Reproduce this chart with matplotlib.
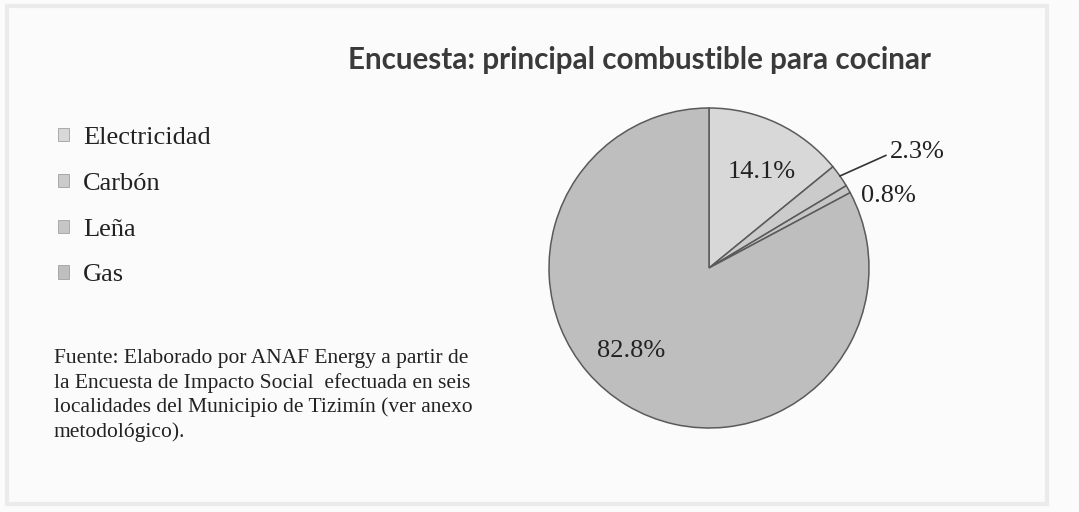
import numpy as np
import matplotlib
matplotlib.use('Agg')
import matplotlib.pyplot as plt
from matplotlib.patches import Rectangle

# Encuesta de impacto social - combustible para cocinar
categorias = ['Electricidad', 'Carbón', 'Leña', 'Gas']
porcentajes = [14.1, 2.3, 0.8, 82.8]
etiquetas = ['14.1%', '2.3%', '0.8%', '82.8%']
colores = ['#d8d8d8', '#cbcbcb', '#c6c6c6', '#bebebe']

titulo = 'Encuesta: principal combustible para cocinar'
fuente = ('Fuente: Elaborado por ANAF Energy a partir de\n'
          'la Encuesta de Impacto Social  efectuada en seis\n'
          'localidades del Municipio de Tizimín (ver anexo\n'
          'metodológico).')

serif = ['Liberation Serif', 'DejaVu Serif']

fig = plt.figure(figsize=(10.79, 5.12), dpi=100, facecolor='#fbfbfb')

# marco tenue alrededor del grafico
fig.patches.append(Rectangle((7 / 1079, 8 / 512), 1040 / 1079, 498 / 512,
                             transform=fig.transFigure, fill=False,
                             edgecolor='#ebebeb', linewidth=3))

ax = fig.add_axes([549 / 1079, (512 - 428) / 512, 320 / 1079, 320 / 512])
wedges, _ = ax.pie(porcentajes, colors=colores, startangle=90, counterclock=False,
                   radius=1.0, wedgeprops=dict(edgecolor='#5a5a5a', linewidth=1.1))
ax.set_xlim(-1, 1)
ax.set_ylim(-1, 1)
ax.set_aspect('equal')
ax.axis('off')

# posicion de las etiquetas (radio, angulo en grados)
pos_etiquetas = [(0.685, 61.1), (1.49, 29.0), (1.21, 21.8), (0.71, 227.0)]
for i, (w, txt) in enumerate(zip(wedges, etiquetas)):
    r, ang = pos_etiquetas[i]
    x, y = r * np.cos(np.radians(ang)), r * np.sin(np.radians(ang))
    if i == 1:
        mid = np.radians((w.theta1 + w.theta2) / 2)
        ax.annotate(txt, xy=(np.cos(mid), np.sin(mid)), xytext=(x, y),
                    ha='center', va='center', fontsize=19, family=serif, color='#222222',
                    arrowprops=dict(arrowstyle='-', color='#333333', lw=1.2,
                                    shrinkA=1, shrinkB=0,
                                    relpos=(0.0, 0.45)),
                    annotation_clip=False)
    else:
        ax.text(x, y, txt, ha='center', va='center', fontsize=19, family=serif,
                color='#222222', clip_on=False)

fig.text(640 / 1079, 1 - 60 / 512, titulo, ha='center', va='center',
         fontsize=21.3, fontweight='bold', family=['Lato', 'DejaVu Sans'], color='#3a3a3a')

leg = fig.legend(wedges, categorias, loc='upper left',
                 bbox_to_anchor=(45 / 1079, 1 - 114 / 512), frameon=False,
                 prop=dict(family=serif, size=19), handlelength=0.4, handleheight=0.4,
                 handletextpad=0.55, labelspacing=0.9, borderpad=0)
for h in leg.legend_handles:
    h.set_edgecolor('#a0a0a0')
    h.set_linewidth(0.6)
for t in leg.get_texts():
    t.set_color('#222222')

fig.text(54 / 1079, 1 - 349 / 512, fuente, ha='left', va='top', fontsize=15.5,
         family=serif, color='#222222', linespacing=1.32)

fig.savefig('out.png', dpi=100, facecolor=fig.get_facecolor())
